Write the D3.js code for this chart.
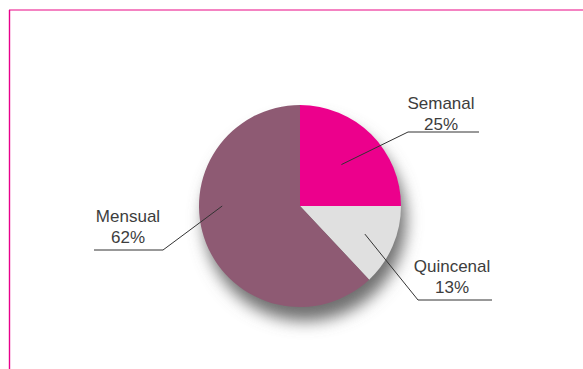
<!DOCTYPE html>
<html>
<head>
<meta charset="utf-8">
<script src="https://cdn.jsdelivr.net/npm/d3@7"></script>
<style>
  html, body { margin: 0; padding: 0; background: #fff; }
  svg { display: block; }
  text { font-family: "Liberation Sans", Arial, sans-serif; font-size: 17px; fill: #3d3d3d; }
</style>
</head>
<body>
<svg id="chart" width="583" height="369"></svg>
<script>
// Frequency of payment shares
const categories = ["Semanal", "Quincenal", "Mensual"];
const shares = [25, 13, 62];
const sliceColors = ["#ec008c", "#e0e0e0", "#8e5a73"];

const W = 583, H = 369;
const cx = 300, cy = 206, R = 101;

const svg = d3.select("#chart");

// Frame lines (top and left)
svg.append("line").attr("x1", 9).attr("x2", W).attr("y1", 10).attr("y2", 10)
  .attr("stroke", "#f05aae").attr("stroke-width", 1.6);
svg.append("line").attr("x1", 9.5).attr("x2", 9.5).attr("y1", 10).attr("y2", H)
  .attr("stroke", "#e8008c").attr("stroke-width", 1.4);

// Soft drop shadow under the pie
const defs = svg.append("defs");
defs.append("filter").attr("id", "pieShadow")
  .attr("x", "-30%").attr("y", "-30%").attr("width", "160%").attr("height", "160%")
  .append("feGaussianBlur").attr("stdDeviation", 8);

const g = svg.append("g").attr("transform", `translate(${cx},${cy})`);
g.append("circle").attr("cx", 5).attr("cy", 14).attr("r", R)
  .attr("fill", "#707070").attr("filter", "url(#pieShadow)");

const data = categories.map((c, i) => ({ name: c, value: shares[i], color: sliceColors[i] }));
const pie = d3.pie().value(d => d.value).sort(null);
const arc = d3.arc().innerRadius(0).outerRadius(R);
const arcs = pie(data);

g.selectAll("path.slice").data(arcs).enter().append("path")
  .attr("class", "slice")
  .attr("d", arc)
  .attr("fill", d => d.data.color);

// Leader line layout: anchor angle inside the slice, anchor radius fraction,
// elbow point and the end of the underline, plus the label centre.
const layout = {
  "Semanal":   { angle: null, frac: 0.58, elbow: [408, 132], end: [479, 132], tx: 441, ty: 109 },
  "Quincenal": { angle: null, frac: 0.70, elbow: [418, 300], end: [492, 300], tx: 452, ty: 272 },
  "Mensual":   { angle: 1.5 * Math.PI, frac: 0.77, elbow: [163, 250], end: [94, 250], tx: 128, ty: 222 }
};

arcs.forEach(d => {
  const L = layout[d.data.name];
  const a = L.angle !== null ? L.angle : (d.startAngle + d.endAngle) / 2;
  const p = d3.pointRadial(a, R * L.frac);
  const start = [cx + p[0], cy + p[1]];
  svg.append("polyline")
    .attr("points", [start, L.elbow, L.end].map(q => q.join(",")).join(" "))
    .attr("fill", "none").attr("stroke", "#333").attr("stroke-width", 1);
  svg.append("text").attr("x", L.tx).attr("y", L.ty).attr("text-anchor", "middle")
    .text(d.data.name);
  svg.append("text").attr("x", L.tx).attr("y", L.ty + 21).attr("text-anchor", "middle")
    .text(d.data.value + "%");
});
</script>
</body>
</html>
